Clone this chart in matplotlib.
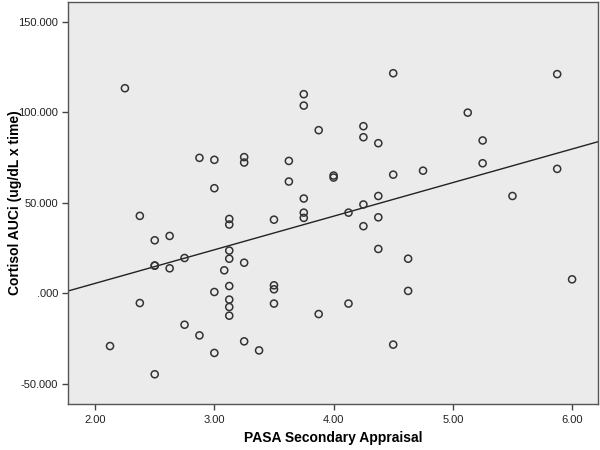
import numpy as np
import matplotlib
matplotlib.use('Agg')
import matplotlib.pyplot as plt

# PASA secondary appraisal scores (x) and cortisol AUCi (y)
pasa = [2.25, 2.875, 3.0, 3.25, 3.25, 3.0, 2.375, 3.125, 3.125, 2.625,
        2.5, 2.75, 3.125, 3.125, 3.25, 2.5, 2.5, 2.625, 3.083, 3.125,
        3.0, 2.375, 3.125, 3.125, 3.125, 2.75, 2.875, 2.125, 3.25, 3.0,
        3.375, 2.5, 4.5, 3.75, 3.75, 3.875, 4.25, 4.25, 4.375, 3.625,
        3.625, 4.0, 4.0, 4.5, 4.75, 3.75, 4.375, 4.25, 3.75, 3.75,
        4.125, 3.5, 4.375, 4.25, 4.375, 4.625, 3.5, 3.5, 4.625, 3.5,
        3.875, 4.125, 4.5, 5.875, 5.125, 5.25, 5.25, 5.875, 5.5, 6.0]
cortisol = [113.4, 74.9, 73.8, 75.3, 72.3, 58.1, 42.8, 41.1, 38.0, 31.7,
            29.3, 19.5, 23.6, 19.1, 16.9, 15.3, 15.3, 13.8, 12.7, 4.0,
            0.7, -5.4, -3.5, -7.6, -12.4, -17.4, -23.3, -29.2, -26.6, -33.0,
            -31.6, -44.8, 121.7, 110.1, 103.8, 90.2, 92.4, 86.3, 83.0, 73.2,
            61.8, 65.1, 64.0, 65.6, 67.8, 52.4, 53.8, 49.1, 44.6, 41.7,
            44.6, 40.7, 42.0, 37.1, 24.5, 19.1, 4.4, 2.2, 1.3, -5.7,
            -11.5, -5.7, -28.4, 121.2, 99.9, 84.5, 71.9, 68.8, 53.8, 7.7]

x_ticks = [2.0, 3.0, 4.0, 5.0, 6.0]
y_ticks = [-50, 0, 50, 100, 150]

plt.rcParams['font.family'] = ['Liberation Sans', 'DejaVu Sans']

fig = plt.figure(figsize=(6, 4.5), dpi=100)
ax = fig.add_axes([0.114, 0.102, 0.882, 0.894])
ax.set_facecolor('#ebebeb')

ax.scatter(pasa, cortisol, s=26, facecolors='none', edgecolors='#333333',
           linewidths=1.1, zorder=3)

# least squares fit line
xlim = (1.776, 6.214)
slope, intercept = np.polyfit(pasa, cortisol, 1)
xs = np.array(xlim)
ax.plot(xs, intercept + slope * xs, color='#222222', lw=1.0, zorder=2)

ax.set_xlim(*xlim)
ax.set_ylim(-61.3, 161.2)
ax.set_xticks(x_ticks)
ax.set_xticklabels(['%.2f' % v for v in x_ticks])
ax.set_yticks(y_ticks)
ax.set_yticklabels(['.000' if v == 0 else '%.3f' % v for v in y_ticks])
ax.tick_params(direction='out', length=4, width=1, color='#444444',
               labelsize=8, labelcolor='#222222')
for s in ax.spines.values():
    s.set_color('#555555')
    s.set_linewidth(1)

ax.set_xlabel('PASA Secondary Appraisal', fontsize=10, fontweight='bold',
              va='center')
ax.set_ylabel('Cortisol AUCi (ug/dL x time)', fontsize=10, fontweight='bold',
              va='center')
ax.xaxis.set_label_coords(0.5, -0.085)
ax.yaxis.set_label_coords(-0.1, 0.5)

fig.savefig('out.png', dpi=100, facecolor='white')
